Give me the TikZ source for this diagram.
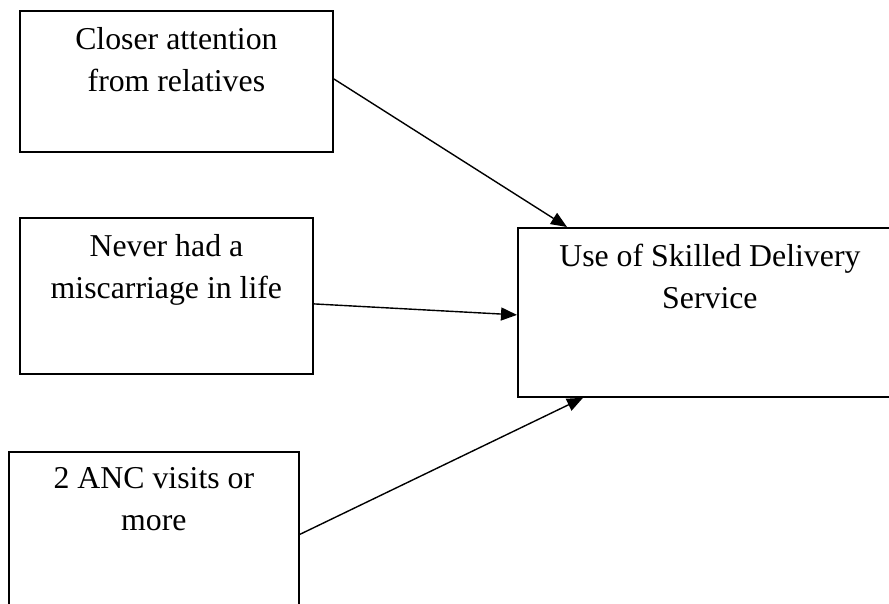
\documentclass[tikz,border=0pt]{standalone}
\usepackage{fontspec}
\setmainfont{Liberation Serif}
\usetikzlibrary{arrows.meta}
\begin{document}
\begin{tikzpicture}[x=1pt,y=-1pt,
  factorbox/.style={draw=black, line width=1.8pt, fill=none, inner sep=0pt, anchor=north west},
  boxtext/.style={anchor=north, align=center, inner sep=0pt, font=\fontsize{31.8}{42}\selectfont},
  link/.style={line width=1.4pt, -{Triangle[length=16pt,width=13pt]}}]
  \useasboundingbox (0,0) rectangle (889,604);

  % frames
  \node[factorbox, minimum width=313pt, minimum height=141pt] (rel) at (19,10) {};
  \node[factorbox, minimum width=293pt, minimum height=156pt] (mis) at (19,217) {};
  \node[factorbox, minimum width=290pt, minimum height=165pt] (anc) at (8,451) {};
  \node[factorbox, minimum width=384pt, minimum height=169pt] (use) at (517,227) {};

  % labels
  \node[boxtext] (relt) at ([yshift=-17pt]rel.north) {Closer attention\\from relatives};
  \node[boxtext] (mist) at ([yshift=-17pt]mis.north) {Never had a\\miscarriage in life};
  \node[boxtext] (anct) at ([yshift=-16pt]anc.north) {2 ANC visits or\\more};
  \node[boxtext] (uset) at ([yshift=-17pt]use.north) {Use of Skilled Delivery\\Service};

  % connectors
  \draw[link] ([yshift=2.5pt]rel.east) -- ([xshift=50pt]use.north west);
  \draw[link] ([yshift=-8pt]mis.east) -- ([yshift=-2.5pt]use.west);
  \draw[link] (anc.east) -- ([xshift=66pt]use.south west);
\end{tikzpicture}
\end{document}
